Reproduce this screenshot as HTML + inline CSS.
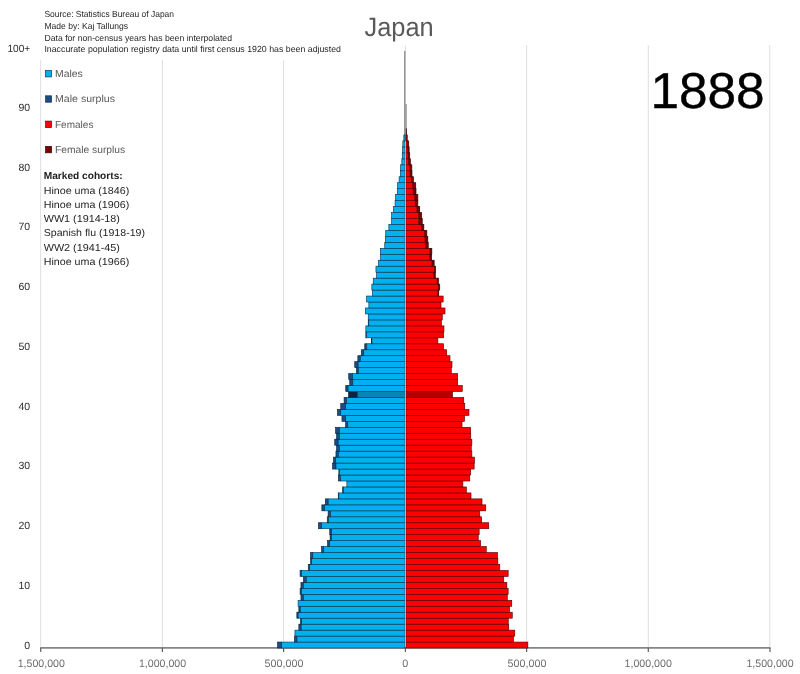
<!DOCTYPE html>
<html lang="en"><head><meta charset="utf-8"><title>Japan 1888 population pyramid</title>
<style>html,body{margin:0;padding:0;background:#fff}body{width:800px;height:674px;overflow:hidden}svg{display:block}text{font-family:"Liberation Sans",sans-serif;text-rendering:geometricPrecision}</style></head><body>
<svg width="800" height="674" viewBox="0 0 800 674">
<rect width="800" height="674" fill="#fff"/>
<g stroke="#dcdcdc" stroke-width="0.95">
<line x1="40.65" y1="60" x2="40.65" y2="648"/>
<line x1="162.4" y1="60" x2="162.4" y2="648"/>
<line x1="283.55" y1="60" x2="283.55" y2="648"/>
<line x1="526.6" y1="45" x2="526.6" y2="648"/>
<line x1="648.3" y1="45" x2="648.3" y2="648"/>
<line x1="769.8" y1="45" x2="769.8" y2="648"/>
</g>
<line x1="405.4" y1="45.5" x2="405.4" y2="51" stroke="#dfdfdf" stroke-width="1.1"/>
<line x1="404.85" y1="51" x2="404.85" y2="140" stroke="#8c8c8c" stroke-width="1.5"/>
<line x1="406" y1="104" x2="406" y2="129" stroke="#9a9a9a" stroke-width="1.6"/>
<line x1="406.3" y1="128.5" x2="406.3" y2="135" stroke="#4a1a1a" stroke-width="1.3"/>
<line x1="40.1" y1="647.8" x2="770.5" y2="647.8" stroke="#858585" stroke-width="1.7"/>
<g stroke="#606060" stroke-width="1.2">
<line x1="40.7" y1="648" x2="40.7" y2="652"/>
<line x1="162.4" y1="648" x2="162.4" y2="652"/>
<line x1="283.6" y1="648" x2="283.6" y2="652"/>
<line x1="405.4" y1="648" x2="405.4" y2="652"/>
<line x1="526.6" y1="648" x2="526.6" y2="652"/>
<line x1="648.3" y1="648" x2="648.3" y2="652"/>
<line x1="770.0" y1="648" x2="770.0" y2="652"/>
</g>
<g id="bars">
<rect x="277.60" y="642.06" width="4.00" height="5.97" fill="#1c4c84" stroke="#0a2540" stroke-width="0.65"/>
<rect x="281.60" y="642.06" width="123.40" height="5.97" fill="#00b0f0" stroke="#083a55" stroke-width="0.65"/>
<rect x="405.90" y="642.06" width="121.95" height="5.97" fill="#ff0000" stroke="#5a0000" stroke-width="0.65"/>
<rect x="294.45" y="636.10" width="2.50" height="5.97" fill="#1c4c84" stroke="#0a2540" stroke-width="0.65"/>
<rect x="296.95" y="636.10" width="108.05" height="5.97" fill="#00b0f0" stroke="#083a55" stroke-width="0.65"/>
<rect x="405.90" y="636.10" width="107.60" height="5.97" fill="#ff0000" stroke="#5a0000" stroke-width="0.65"/>
<rect x="294.95" y="630.13" width="110.05" height="5.97" fill="#00b0f0" stroke="#083a55" stroke-width="0.65"/>
<rect x="405.90" y="630.13" width="108.85" height="5.97" fill="#ff0000" stroke="#5a0000" stroke-width="0.65"/>
<rect x="298.85" y="624.17" width="2.35" height="5.97" fill="#1c4c84" stroke="#0a2540" stroke-width="0.65"/>
<rect x="301.20" y="624.17" width="103.80" height="5.97" fill="#00b0f0" stroke="#083a55" stroke-width="0.65"/>
<rect x="405.90" y="624.17" width="102.85" height="5.97" fill="#ff0000" stroke="#5a0000" stroke-width="0.65"/>
<rect x="300.35" y="618.20" width="1.25" height="5.97" fill="#1c4c84" stroke="#0a2540" stroke-width="0.65"/>
<rect x="301.60" y="618.20" width="103.40" height="5.97" fill="#00b0f0" stroke="#083a55" stroke-width="0.65"/>
<rect x="405.90" y="618.20" width="102.35" height="5.97" fill="#ff0000" stroke="#5a0000" stroke-width="0.65"/>
<rect x="296.85" y="612.23" width="1.35" height="5.97" fill="#1c4c84" stroke="#0a2540" stroke-width="0.65"/>
<rect x="298.20" y="612.23" width="106.80" height="5.97" fill="#00b0f0" stroke="#083a55" stroke-width="0.65"/>
<rect x="405.90" y="612.23" width="106.35" height="5.97" fill="#ff0000" stroke="#5a0000" stroke-width="0.65"/>
<rect x="298.85" y="606.27" width="1.45" height="5.97" fill="#1c4c84" stroke="#0a2540" stroke-width="0.65"/>
<rect x="300.30" y="606.27" width="104.70" height="5.97" fill="#00b0f0" stroke="#083a55" stroke-width="0.65"/>
<rect x="405.90" y="606.27" width="103.60" height="5.97" fill="#ff0000" stroke="#5a0000" stroke-width="0.65"/>
<rect x="298.10" y="600.30" width="106.90" height="5.97" fill="#00b0f0" stroke="#083a55" stroke-width="0.65"/>
<rect x="405.90" y="600.30" width="105.85" height="5.97" fill="#ff0000" stroke="#5a0000" stroke-width="0.65"/>
<rect x="300.95" y="594.34" width="2.50" height="5.97" fill="#1c4c84" stroke="#0a2540" stroke-width="0.65"/>
<rect x="303.45" y="594.34" width="101.55" height="5.97" fill="#00b0f0" stroke="#083a55" stroke-width="0.65"/>
<rect x="405.90" y="594.34" width="101.35" height="5.97" fill="#ff0000" stroke="#5a0000" stroke-width="0.65"/>
<rect x="300.10" y="588.37" width="1.50" height="5.97" fill="#1c4c84" stroke="#0a2540" stroke-width="0.65"/>
<rect x="301.60" y="588.37" width="103.40" height="5.97" fill="#00b0f0" stroke="#083a55" stroke-width="0.65"/>
<rect x="405.90" y="588.37" width="102.25" height="5.97" fill="#ff0000" stroke="#5a0000" stroke-width="0.65"/>
<rect x="300.95" y="582.40" width="2.50" height="5.97" fill="#1c4c84" stroke="#0a2540" stroke-width="0.65"/>
<rect x="303.45" y="582.40" width="101.55" height="5.97" fill="#00b0f0" stroke="#083a55" stroke-width="0.65"/>
<rect x="405.90" y="582.40" width="100.95" height="5.97" fill="#ff0000" stroke="#5a0000" stroke-width="0.65"/>
<rect x="303.45" y="576.44" width="2.85" height="5.97" fill="#1c4c84" stroke="#0a2540" stroke-width="0.65"/>
<rect x="306.30" y="576.44" width="98.70" height="5.97" fill="#00b0f0" stroke="#083a55" stroke-width="0.65"/>
<rect x="405.90" y="576.44" width="97.85" height="5.97" fill="#ff0000" stroke="#5a0000" stroke-width="0.65"/>
<rect x="300.10" y="570.47" width="1.50" height="5.97" fill="#1c4c84" stroke="#0a2540" stroke-width="0.65"/>
<rect x="301.60" y="570.47" width="103.40" height="5.97" fill="#00b0f0" stroke="#083a55" stroke-width="0.65"/>
<rect x="405.90" y="570.47" width="102.25" height="5.97" fill="#ff0000" stroke="#5a0000" stroke-width="0.65"/>
<rect x="308.25" y="564.51" width="1.45" height="5.97" fill="#1c4c84" stroke="#0a2540" stroke-width="0.65"/>
<rect x="309.70" y="564.51" width="95.30" height="5.97" fill="#00b0f0" stroke="#083a55" stroke-width="0.65"/>
<rect x="405.90" y="564.51" width="93.85" height="5.97" fill="#ff0000" stroke="#5a0000" stroke-width="0.65"/>
<rect x="310.60" y="558.54" width="1.00" height="5.97" fill="#1c4c84" stroke="#0a2540" stroke-width="0.65"/>
<rect x="311.60" y="558.54" width="93.40" height="5.97" fill="#00b0f0" stroke="#083a55" stroke-width="0.65"/>
<rect x="405.90" y="558.54" width="91.95" height="5.97" fill="#ff0000" stroke="#5a0000" stroke-width="0.65"/>
<rect x="310.60" y="552.57" width="2.20" height="5.97" fill="#1c4c84" stroke="#0a2540" stroke-width="0.65"/>
<rect x="312.80" y="552.57" width="92.20" height="5.97" fill="#00b0f0" stroke="#083a55" stroke-width="0.65"/>
<rect x="405.90" y="552.57" width="91.60" height="5.97" fill="#ff0000" stroke="#5a0000" stroke-width="0.65"/>
<rect x="321.60" y="546.61" width="2.10" height="5.97" fill="#1c4c84" stroke="#0a2540" stroke-width="0.65"/>
<rect x="323.70" y="546.61" width="81.30" height="5.97" fill="#00b0f0" stroke="#083a55" stroke-width="0.65"/>
<rect x="405.90" y="546.61" width="80.35" height="5.97" fill="#ff0000" stroke="#5a0000" stroke-width="0.65"/>
<rect x="327.60" y="540.64" width="2.10" height="5.97" fill="#1c4c84" stroke="#0a2540" stroke-width="0.65"/>
<rect x="329.70" y="540.64" width="75.30" height="5.97" fill="#00b0f0" stroke="#083a55" stroke-width="0.65"/>
<rect x="405.90" y="540.64" width="74.75" height="5.97" fill="#ff0000" stroke="#5a0000" stroke-width="0.65"/>
<rect x="330.10" y="534.68" width="1.50" height="5.97" fill="#1c4c84" stroke="#0a2540" stroke-width="0.65"/>
<rect x="331.60" y="534.68" width="73.40" height="5.97" fill="#00b0f0" stroke="#083a55" stroke-width="0.65"/>
<rect x="405.90" y="534.68" width="72.35" height="5.97" fill="#ff0000" stroke="#5a0000" stroke-width="0.65"/>
<rect x="329.75" y="528.71" width="1.85" height="5.97" fill="#1c4c84" stroke="#0a2540" stroke-width="0.65"/>
<rect x="331.60" y="528.71" width="73.40" height="5.97" fill="#00b0f0" stroke="#083a55" stroke-width="0.65"/>
<rect x="405.90" y="528.71" width="73.25" height="5.97" fill="#ff0000" stroke="#5a0000" stroke-width="0.65"/>
<rect x="318.45" y="522.74" width="3.15" height="5.97" fill="#1c4c84" stroke="#0a2540" stroke-width="0.65"/>
<rect x="321.60" y="522.74" width="83.40" height="5.97" fill="#00b0f0" stroke="#083a55" stroke-width="0.65"/>
<rect x="405.90" y="522.74" width="82.85" height="5.97" fill="#ff0000" stroke="#5a0000" stroke-width="0.65"/>
<rect x="327.25" y="516.78" width="1.20" height="5.97" fill="#1c4c84" stroke="#0a2540" stroke-width="0.65"/>
<rect x="328.45" y="516.78" width="76.55" height="5.97" fill="#00b0f0" stroke="#083a55" stroke-width="0.65"/>
<rect x="405.90" y="516.78" width="75.75" height="5.97" fill="#ff0000" stroke="#5a0000" stroke-width="0.65"/>
<rect x="328.10" y="510.81" width="2.50" height="5.97" fill="#1c4c84" stroke="#0a2540" stroke-width="0.65"/>
<rect x="330.60" y="510.81" width="74.40" height="5.97" fill="#00b0f0" stroke="#083a55" stroke-width="0.65"/>
<rect x="405.90" y="510.81" width="73.85" height="5.97" fill="#ff0000" stroke="#5a0000" stroke-width="0.65"/>
<rect x="321.85" y="504.85" width="2.85" height="5.97" fill="#1c4c84" stroke="#0a2540" stroke-width="0.65"/>
<rect x="324.70" y="504.85" width="80.30" height="5.97" fill="#00b0f0" stroke="#083a55" stroke-width="0.65"/>
<rect x="405.90" y="504.85" width="79.85" height="5.97" fill="#ff0000" stroke="#5a0000" stroke-width="0.65"/>
<rect x="325.35" y="498.88" width="2.85" height="5.97" fill="#1c4c84" stroke="#0a2540" stroke-width="0.65"/>
<rect x="328.20" y="498.88" width="76.80" height="5.97" fill="#00b0f0" stroke="#083a55" stroke-width="0.65"/>
<rect x="405.90" y="498.88" width="76.10" height="5.97" fill="#ff0000" stroke="#5a0000" stroke-width="0.65"/>
<rect x="338.25" y="492.91" width="0.55" height="5.97" fill="#1c4c84" stroke="#0a2540" stroke-width="0.65"/>
<rect x="338.80" y="492.91" width="66.20" height="5.97" fill="#00b0f0" stroke="#083a55" stroke-width="0.65"/>
<rect x="405.90" y="492.91" width="65.10" height="5.97" fill="#ff0000" stroke="#5a0000" stroke-width="0.65"/>
<rect x="342.55" y="486.95" width="0.90" height="5.97" fill="#1c4c84" stroke="#0a2540" stroke-width="0.65"/>
<rect x="343.45" y="486.95" width="61.55" height="5.97" fill="#00b0f0" stroke="#083a55" stroke-width="0.65"/>
<rect x="405.90" y="486.95" width="60.45" height="5.97" fill="#ff0000" stroke="#5a0000" stroke-width="0.65"/>
<rect x="346.85" y="480.98" width="58.15" height="5.97" fill="#00b0f0" stroke="#083a55" stroke-width="0.65"/>
<rect x="405.90" y="480.98" width="56.95" height="5.97" fill="#ff0000" stroke="#5a0000" stroke-width="0.65"/>
<rect x="338.45" y="475.02" width="2.15" height="5.97" fill="#1c4c84" stroke="#0a2540" stroke-width="0.65"/>
<rect x="340.60" y="475.02" width="64.40" height="5.97" fill="#00b0f0" stroke="#083a55" stroke-width="0.65"/>
<rect x="405.90" y="475.02" width="63.85" height="5.97" fill="#ff0000" stroke="#5a0000" stroke-width="0.65"/>
<rect x="338.85" y="469.05" width="0.60" height="5.97" fill="#1c4c84" stroke="#0a2540" stroke-width="0.65"/>
<rect x="339.45" y="469.05" width="65.55" height="5.97" fill="#00b0f0" stroke="#083a55" stroke-width="0.65"/>
<rect x="405.90" y="469.05" width="64.75" height="5.97" fill="#ff0000" stroke="#5a0000" stroke-width="0.65"/>
<rect x="332.60" y="463.08" width="3.35" height="5.97" fill="#1c4c84" stroke="#0a2540" stroke-width="0.65"/>
<rect x="335.95" y="463.08" width="69.05" height="5.97" fill="#00b0f0" stroke="#083a55" stroke-width="0.65"/>
<rect x="405.90" y="463.08" width="68.25" height="5.97" fill="#ff0000" stroke="#5a0000" stroke-width="0.65"/>
<rect x="333.45" y="457.12" width="2.25" height="5.97" fill="#1c4c84" stroke="#0a2540" stroke-width="0.65"/>
<rect x="335.70" y="457.12" width="69.30" height="5.97" fill="#00b0f0" stroke="#083a55" stroke-width="0.65"/>
<rect x="405.90" y="457.12" width="68.60" height="5.97" fill="#ff0000" stroke="#5a0000" stroke-width="0.65"/>
<rect x="335.95" y="451.15" width="2.50" height="5.97" fill="#1c4c84" stroke="#0a2540" stroke-width="0.65"/>
<rect x="338.45" y="451.15" width="66.55" height="5.97" fill="#00b0f0" stroke="#083a55" stroke-width="0.65"/>
<rect x="405.90" y="451.15" width="65.95" height="5.97" fill="#ff0000" stroke="#5a0000" stroke-width="0.65"/>
<rect x="336.60" y="445.19" width="2.85" height="5.97" fill="#1c4c84" stroke="#0a2540" stroke-width="0.65"/>
<rect x="339.45" y="445.19" width="65.55" height="5.97" fill="#00b0f0" stroke="#083a55" stroke-width="0.65"/>
<rect x="405.90" y="445.19" width="65.35" height="5.97" fill="#ff0000" stroke="#5a0000" stroke-width="0.65"/>
<rect x="334.75" y="439.22" width="3.45" height="5.97" fill="#1c4c84" stroke="#0a2540" stroke-width="0.65"/>
<rect x="338.20" y="439.22" width="66.80" height="5.97" fill="#00b0f0" stroke="#083a55" stroke-width="0.65"/>
<rect x="405.90" y="439.22" width="65.95" height="5.97" fill="#ff0000" stroke="#5a0000" stroke-width="0.65"/>
<rect x="336.60" y="433.25" width="2.85" height="5.97" fill="#1c4c84" stroke="#0a2540" stroke-width="0.65"/>
<rect x="339.45" y="433.25" width="65.55" height="5.97" fill="#00b0f0" stroke="#083a55" stroke-width="0.65"/>
<rect x="405.90" y="433.25" width="64.85" height="5.97" fill="#ff0000" stroke="#5a0000" stroke-width="0.65"/>
<rect x="335.60" y="427.29" width="3.85" height="5.97" fill="#1c4c84" stroke="#0a2540" stroke-width="0.65"/>
<rect x="339.45" y="427.29" width="65.55" height="5.97" fill="#00b0f0" stroke="#083a55" stroke-width="0.65"/>
<rect x="405.90" y="427.29" width="64.75" height="5.97" fill="#ff0000" stroke="#5a0000" stroke-width="0.65"/>
<rect x="345.60" y="421.32" width="2.20" height="5.97" fill="#1c4c84" stroke="#0a2540" stroke-width="0.65"/>
<rect x="347.80" y="421.32" width="57.20" height="5.97" fill="#00b0f0" stroke="#083a55" stroke-width="0.65"/>
<rect x="405.90" y="421.32" width="56.10" height="5.97" fill="#ff0000" stroke="#5a0000" stroke-width="0.65"/>
<rect x="341.95" y="415.36" width="3.75" height="5.97" fill="#1c4c84" stroke="#0a2540" stroke-width="0.65"/>
<rect x="345.70" y="415.36" width="59.30" height="5.97" fill="#00b0f0" stroke="#083a55" stroke-width="0.65"/>
<rect x="405.90" y="415.36" width="58.60" height="5.97" fill="#ff0000" stroke="#5a0000" stroke-width="0.65"/>
<rect x="337.55" y="409.39" width="3.15" height="5.97" fill="#1c4c84" stroke="#0a2540" stroke-width="0.65"/>
<rect x="340.70" y="409.39" width="64.30" height="5.97" fill="#00b0f0" stroke="#083a55" stroke-width="0.65"/>
<rect x="405.90" y="409.39" width="63.05" height="5.97" fill="#ff0000" stroke="#5a0000" stroke-width="0.65"/>
<rect x="340.75" y="403.42" width="4.85" height="5.97" fill="#1c4c84" stroke="#0a2540" stroke-width="0.65"/>
<rect x="345.60" y="403.42" width="59.40" height="5.97" fill="#00b0f0" stroke="#083a55" stroke-width="0.65"/>
<rect x="405.90" y="403.42" width="58.85" height="5.97" fill="#ff0000" stroke="#5a0000" stroke-width="0.65"/>
<rect x="344.10" y="397.46" width="2.50" height="5.97" fill="#1c4c84" stroke="#0a2540" stroke-width="0.65"/>
<rect x="346.60" y="397.46" width="58.40" height="5.97" fill="#00b0f0" stroke="#083a55" stroke-width="0.65"/>
<rect x="405.90" y="397.46" width="57.85" height="5.97" fill="#ff0000" stroke="#5a0000" stroke-width="0.65"/>
<rect x="348.45" y="391.49" width="9.00" height="5.97" fill="#0c2440" stroke="#0a2540" stroke-width="0.65"/>
<rect x="357.45" y="391.49" width="47.55" height="5.97" fill="#0a84b4" stroke="#06405c" stroke-width="0.65"/>
<rect x="405.90" y="391.49" width="46.60" height="5.97" fill="#b00000" stroke="#5a0000" stroke-width="0.65"/>
<rect x="345.75" y="385.53" width="2.35" height="5.97" fill="#1c4c84" stroke="#0a2540" stroke-width="0.65"/>
<rect x="348.10" y="385.53" width="56.90" height="5.97" fill="#00b0f0" stroke="#083a55" stroke-width="0.65"/>
<rect x="405.90" y="385.53" width="56.35" height="5.97" fill="#ff0000" stroke="#5a0000" stroke-width="0.65"/>
<rect x="349.75" y="379.56" width="3.05" height="5.97" fill="#1c4c84" stroke="#0a2540" stroke-width="0.65"/>
<rect x="352.80" y="379.56" width="52.20" height="5.97" fill="#00b0f0" stroke="#083a55" stroke-width="0.65"/>
<rect x="405.90" y="379.56" width="51.75" height="5.97" fill="#ff0000" stroke="#5a0000" stroke-width="0.65"/>
<rect x="348.75" y="373.59" width="3.85" height="5.97" fill="#1c4c84" stroke="#0a2540" stroke-width="0.65"/>
<rect x="352.60" y="373.59" width="52.40" height="5.97" fill="#00b0f0" stroke="#083a55" stroke-width="0.65"/>
<rect x="405.90" y="373.59" width="51.75" height="5.97" fill="#ff0000" stroke="#5a0000" stroke-width="0.65"/>
<rect x="356.35" y="367.63" width="2.10" height="5.97" fill="#1c4c84" stroke="#0a2540" stroke-width="0.65"/>
<rect x="358.45" y="367.63" width="46.55" height="5.97" fill="#00b0f0" stroke="#083a55" stroke-width="0.65"/>
<rect x="405.90" y="367.63" width="45.35" height="5.97" fill="#ff0000" stroke="#5a0000" stroke-width="0.65"/>
<rect x="354.75" y="361.66" width="3.45" height="5.97" fill="#1c4c84" stroke="#0a2540" stroke-width="0.65"/>
<rect x="358.20" y="361.66" width="46.80" height="5.97" fill="#00b0f0" stroke="#083a55" stroke-width="0.65"/>
<rect x="405.90" y="361.66" width="46.10" height="5.97" fill="#ff0000" stroke="#5a0000" stroke-width="0.65"/>
<rect x="357.85" y="355.70" width="2.45" height="5.97" fill="#1c4c84" stroke="#0a2540" stroke-width="0.65"/>
<rect x="360.30" y="355.70" width="44.70" height="5.97" fill="#00b0f0" stroke="#083a55" stroke-width="0.65"/>
<rect x="405.90" y="355.70" width="44.10" height="5.97" fill="#ff0000" stroke="#5a0000" stroke-width="0.65"/>
<rect x="361.35" y="349.73" width="2.35" height="5.97" fill="#1c4c84" stroke="#0a2540" stroke-width="0.65"/>
<rect x="363.70" y="349.73" width="41.30" height="5.97" fill="#00b0f0" stroke="#083a55" stroke-width="0.65"/>
<rect x="405.90" y="349.73" width="40.75" height="5.97" fill="#ff0000" stroke="#5a0000" stroke-width="0.65"/>
<rect x="364.75" y="343.76" width="2.05" height="5.97" fill="#1c4c84" stroke="#0a2540" stroke-width="0.65"/>
<rect x="366.80" y="343.76" width="38.20" height="5.97" fill="#00b0f0" stroke="#083a55" stroke-width="0.65"/>
<rect x="405.90" y="343.76" width="37.60" height="5.97" fill="#ff0000" stroke="#5a0000" stroke-width="0.65"/>
<rect x="371.60" y="337.80" width="0.35" height="5.97" fill="#1c4c84" stroke="#0a2540" stroke-width="0.65"/>
<rect x="371.95" y="337.80" width="33.05" height="5.97" fill="#00b0f0" stroke="#083a55" stroke-width="0.65"/>
<rect x="405.90" y="337.80" width="31.95" height="5.97" fill="#ff0000" stroke="#5a0000" stroke-width="0.65"/>
<rect x="365.85" y="331.83" width="0.75" height="5.97" fill="#1c4c84" stroke="#0a2540" stroke-width="0.65"/>
<rect x="366.60" y="331.83" width="38.40" height="5.97" fill="#00b0f0" stroke="#083a55" stroke-width="0.65"/>
<rect x="405.90" y="331.83" width="37.75" height="5.97" fill="#ff0000" stroke="#5a0000" stroke-width="0.65"/>
<rect x="365.85" y="325.87" width="39.15" height="5.97" fill="#00b0f0" stroke="#083a55" stroke-width="0.65"/>
<rect x="405.90" y="325.87" width="38.05" height="5.97" fill="#ff0000" stroke="#5a0000" stroke-width="0.65"/>
<rect x="368.25" y="319.90" width="0.45" height="5.97" fill="#1c4c84" stroke="#0a2540" stroke-width="0.65"/>
<rect x="368.70" y="319.90" width="36.30" height="5.97" fill="#00b0f0" stroke="#083a55" stroke-width="0.65"/>
<rect x="405.90" y="319.90" width="35.45" height="5.97" fill="#ff0000" stroke="#5a0000" stroke-width="0.65"/>
<rect x="368.25" y="313.93" width="36.75" height="5.97" fill="#00b0f0" stroke="#083a55" stroke-width="0.65"/>
<rect x="405.90" y="313.93" width="36.35" height="5.97" fill="#ff0000" stroke="#5a0000" stroke-width="0.65"/>
<rect x="365.35" y="307.97" width="39.65" height="5.97" fill="#00b0f0" stroke="#083a55" stroke-width="0.65"/>
<rect x="405.90" y="307.97" width="39.10" height="5.97" fill="#ff0000" stroke="#5a0000" stroke-width="0.65"/>
<rect x="368.85" y="302.00" width="36.15" height="5.97" fill="#00b0f0" stroke="#083a55" stroke-width="0.65"/>
<rect x="405.90" y="302.00" width="35.10" height="5.97" fill="#ff0000" stroke="#5a0000" stroke-width="0.65"/>
<rect x="366.60" y="296.04" width="38.40" height="5.97" fill="#00b0f0" stroke="#083a55" stroke-width="0.65"/>
<rect x="405.90" y="296.04" width="37.25" height="5.97" fill="#ff0000" stroke="#5a0000" stroke-width="0.65"/>
<rect x="372.45" y="290.07" width="32.55" height="5.97" fill="#00b0f0" stroke="#083a55" stroke-width="0.65"/>
<rect x="437.90" y="290.07" width="0.85" height="5.97" fill="#7b0000" stroke="#300000" stroke-width="0.65"/>
<rect x="405.90" y="290.07" width="32.00" height="5.97" fill="#ff0000" stroke="#5a0000" stroke-width="0.65"/>
<rect x="371.85" y="284.10" width="33.15" height="5.97" fill="#00b0f0" stroke="#083a55" stroke-width="0.65"/>
<rect x="438.50" y="284.10" width="1.25" height="5.97" fill="#7b0000" stroke="#300000" stroke-width="0.65"/>
<rect x="405.90" y="284.10" width="32.60" height="5.97" fill="#ff0000" stroke="#5a0000" stroke-width="0.65"/>
<rect x="373.25" y="278.14" width="31.75" height="5.97" fill="#00b0f0" stroke="#083a55" stroke-width="0.65"/>
<rect x="437.10" y="278.14" width="1.40" height="5.97" fill="#7b0000" stroke="#300000" stroke-width="0.65"/>
<rect x="405.90" y="278.14" width="31.20" height="5.97" fill="#ff0000" stroke="#5a0000" stroke-width="0.65"/>
<rect x="376.60" y="272.17" width="28.40" height="5.97" fill="#00b0f0" stroke="#083a55" stroke-width="0.65"/>
<rect x="433.75" y="272.17" width="1.60" height="5.97" fill="#7b0000" stroke="#300000" stroke-width="0.65"/>
<rect x="405.90" y="272.17" width="27.85" height="5.97" fill="#ff0000" stroke="#5a0000" stroke-width="0.65"/>
<rect x="375.95" y="266.21" width="29.05" height="5.97" fill="#00b0f0" stroke="#083a55" stroke-width="0.65"/>
<rect x="434.40" y="266.21" width="1.25" height="5.97" fill="#7b0000" stroke="#300000" stroke-width="0.65"/>
<rect x="405.90" y="266.21" width="28.50" height="5.97" fill="#ff0000" stroke="#5a0000" stroke-width="0.65"/>
<rect x="378.45" y="260.24" width="26.55" height="5.97" fill="#00b0f0" stroke="#083a55" stroke-width="0.65"/>
<rect x="431.90" y="260.24" width="2.25" height="5.97" fill="#7b0000" stroke="#300000" stroke-width="0.65"/>
<rect x="405.90" y="260.24" width="26.00" height="5.97" fill="#ff0000" stroke="#5a0000" stroke-width="0.65"/>
<rect x="380.60" y="254.27" width="24.40" height="5.97" fill="#00b0f0" stroke="#083a55" stroke-width="0.65"/>
<rect x="429.75" y="254.27" width="1.90" height="5.97" fill="#7b0000" stroke="#300000" stroke-width="0.65"/>
<rect x="405.90" y="254.27" width="23.85" height="5.97" fill="#ff0000" stroke="#5a0000" stroke-width="0.65"/>
<rect x="380.35" y="248.31" width="24.65" height="5.97" fill="#00b0f0" stroke="#083a55" stroke-width="0.65"/>
<rect x="430.00" y="248.31" width="1.85" height="5.97" fill="#7b0000" stroke="#300000" stroke-width="0.65"/>
<rect x="405.90" y="248.31" width="24.10" height="5.97" fill="#ff0000" stroke="#5a0000" stroke-width="0.65"/>
<rect x="384.75" y="242.34" width="20.25" height="5.97" fill="#00b0f0" stroke="#083a55" stroke-width="0.65"/>
<rect x="425.60" y="242.34" width="2.65" height="5.97" fill="#7b0000" stroke="#300000" stroke-width="0.65"/>
<rect x="405.90" y="242.34" width="19.70" height="5.97" fill="#ff0000" stroke="#5a0000" stroke-width="0.65"/>
<rect x="385.35" y="236.38" width="19.65" height="5.97" fill="#00b0f0" stroke="#083a55" stroke-width="0.65"/>
<rect x="425.00" y="236.38" width="2.85" height="5.97" fill="#7b0000" stroke="#300000" stroke-width="0.65"/>
<rect x="405.90" y="236.38" width="19.10" height="5.97" fill="#ff0000" stroke="#5a0000" stroke-width="0.65"/>
<rect x="385.75" y="230.41" width="19.25" height="5.97" fill="#00b0f0" stroke="#083a55" stroke-width="0.65"/>
<rect x="424.60" y="230.41" width="2.25" height="5.97" fill="#7b0000" stroke="#300000" stroke-width="0.65"/>
<rect x="405.90" y="230.41" width="18.70" height="5.97" fill="#ff0000" stroke="#5a0000" stroke-width="0.65"/>
<rect x="388.85" y="224.44" width="16.15" height="5.97" fill="#00b0f0" stroke="#083a55" stroke-width="0.65"/>
<rect x="421.50" y="224.44" width="2.35" height="5.97" fill="#7b0000" stroke="#300000" stroke-width="0.65"/>
<rect x="405.90" y="224.44" width="15.60" height="5.97" fill="#ff0000" stroke="#5a0000" stroke-width="0.65"/>
<rect x="391.60" y="218.48" width="13.40" height="5.97" fill="#00b0f0" stroke="#083a55" stroke-width="0.65"/>
<rect x="418.75" y="218.48" width="3.50" height="5.97" fill="#7b0000" stroke="#300000" stroke-width="0.65"/>
<rect x="405.90" y="218.48" width="12.85" height="5.97" fill="#ff0000" stroke="#5a0000" stroke-width="0.65"/>
<rect x="391.60" y="212.51" width="13.40" height="5.97" fill="#00b0f0" stroke="#083a55" stroke-width="0.65"/>
<rect x="418.75" y="212.51" width="2.90" height="5.97" fill="#7b0000" stroke="#300000" stroke-width="0.65"/>
<rect x="405.90" y="212.51" width="12.85" height="5.97" fill="#ff0000" stroke="#5a0000" stroke-width="0.65"/>
<rect x="393.45" y="206.55" width="11.55" height="5.97" fill="#00b0f0" stroke="#083a55" stroke-width="0.65"/>
<rect x="416.90" y="206.55" width="2.85" height="5.97" fill="#7b0000" stroke="#300000" stroke-width="0.65"/>
<rect x="405.90" y="206.55" width="11.00" height="5.97" fill="#ff0000" stroke="#5a0000" stroke-width="0.65"/>
<rect x="395.10" y="200.58" width="9.90" height="5.97" fill="#00b0f0" stroke="#083a55" stroke-width="0.65"/>
<rect x="415.25" y="200.58" width="2.60" height="5.97" fill="#7b0000" stroke="#300000" stroke-width="0.65"/>
<rect x="405.90" y="200.58" width="9.35" height="5.97" fill="#ff0000" stroke="#5a0000" stroke-width="0.65"/>
<rect x="395.60" y="194.61" width="9.40" height="5.97" fill="#00b0f0" stroke="#083a55" stroke-width="0.65"/>
<rect x="414.75" y="194.61" width="3.10" height="5.97" fill="#7b0000" stroke="#300000" stroke-width="0.65"/>
<rect x="405.90" y="194.61" width="8.85" height="5.97" fill="#ff0000" stroke="#5a0000" stroke-width="0.65"/>
<rect x="397.25" y="188.65" width="7.75" height="5.97" fill="#00b0f0" stroke="#083a55" stroke-width="0.65"/>
<rect x="413.10" y="188.65" width="2.90" height="5.97" fill="#7b0000" stroke="#300000" stroke-width="0.65"/>
<rect x="405.90" y="188.65" width="7.20" height="5.97" fill="#ff0000" stroke="#5a0000" stroke-width="0.65"/>
<rect x="397.60" y="182.68" width="7.40" height="5.97" fill="#00b0f0" stroke="#083a55" stroke-width="0.65"/>
<rect x="412.75" y="182.68" width="3.00" height="5.97" fill="#7b0000" stroke="#300000" stroke-width="0.65"/>
<rect x="405.90" y="182.68" width="6.85" height="5.97" fill="#ff0000" stroke="#5a0000" stroke-width="0.65"/>
<rect x="399.10" y="176.72" width="5.90" height="5.97" fill="#00b0f0" stroke="#083a55" stroke-width="0.65"/>
<rect x="411.25" y="176.72" width="2.25" height="5.97" fill="#7b0000" stroke="#300000" stroke-width="0.65"/>
<rect x="405.90" y="176.72" width="5.35" height="5.97" fill="#ff0000" stroke="#5a0000" stroke-width="0.65"/>
<rect x="400.35" y="170.75" width="4.65" height="5.97" fill="#00b0f0" stroke="#083a55" stroke-width="0.65"/>
<rect x="410.00" y="170.75" width="2.00" height="5.97" fill="#7b0000" stroke="#300000" stroke-width="0.65"/>
<rect x="405.90" y="170.75" width="4.10" height="5.97" fill="#ff0000" stroke="#5a0000" stroke-width="0.65"/>
<rect x="400.60" y="164.78" width="4.40" height="5.97" fill="#00b0f0" stroke="#083a55" stroke-width="0.65"/>
<rect x="409.75" y="164.78" width="2.10" height="5.97" fill="#7b0000" stroke="#300000" stroke-width="0.65"/>
<rect x="405.90" y="164.78" width="3.85" height="5.97" fill="#ff0000" stroke="#5a0000" stroke-width="0.65"/>
<rect x="401.85" y="158.82" width="3.15" height="5.97" fill="#00b0f0" stroke="#083a55" stroke-width="0.65"/>
<rect x="408.50" y="158.82" width="1.85" height="5.97" fill="#7b0000" stroke="#300000" stroke-width="0.65"/>
<rect x="405.90" y="158.82" width="2.60" height="5.97" fill="#ff0000" stroke="#5a0000" stroke-width="0.65"/>
<rect x="402.25" y="152.85" width="2.75" height="5.97" fill="#00b0f0" stroke="#083a55" stroke-width="0.65"/>
<rect x="408.10" y="152.85" width="1.65" height="5.97" fill="#7b0000" stroke="#300000" stroke-width="0.65"/>
<rect x="405.90" y="152.85" width="2.20" height="5.97" fill="#ff0000" stroke="#5a0000" stroke-width="0.65"/>
<rect x="402.60" y="146.89" width="2.40" height="5.97" fill="#00b0f0" stroke="#083a55" stroke-width="0.65"/>
<rect x="407.75" y="146.89" width="1.40" height="5.97" fill="#7b0000" stroke="#300000" stroke-width="0.65"/>
<rect x="405.90" y="146.89" width="1.85" height="5.97" fill="#ff0000" stroke="#5a0000" stroke-width="0.65"/>
<rect x="402.85" y="140.92" width="2.15" height="5.97" fill="#00b0f0" stroke="#083a55" stroke-width="0.65"/>
<rect x="407.50" y="140.92" width="1.25" height="5.97" fill="#7b0000" stroke="#300000" stroke-width="0.65"/>
<rect x="405.90" y="140.92" width="1.60" height="5.97" fill="#ff0000" stroke="#5a0000" stroke-width="0.65"/>
<rect x="403.85" y="134.95" width="1.15" height="5.97" fill="#00b0f0" stroke="#083a55" stroke-width="0.65"/>
<rect x="406.50" y="134.95" width="0.75" height="5.97" fill="#7b0000" stroke="#300000" stroke-width="0.65"/>
<rect x="405.90" y="134.95" width="0.60" height="5.97" fill="#ff0000" stroke="#5a0000" stroke-width="0.65"/>
</g>
<line x1="405.4" y1="141" x2="405.4" y2="647" stroke="#bcd6e2" stroke-width="0.8"/>
<text x="41.25" y="667" font-size="10.8" fill="#6e6e6e" text-anchor="middle" textLength="47.2" lengthAdjust="spacingAndGlyphs">1,500,000</text>
<text x="162.5" y="667" font-size="10.8" fill="#6e6e6e" text-anchor="middle" textLength="47.2" lengthAdjust="spacingAndGlyphs">1,000,000</text>
<text x="284" y="667" font-size="10.8" fill="#6e6e6e" text-anchor="middle" textLength="38.8" lengthAdjust="spacingAndGlyphs">500,000</text>
<text x="405.3" y="667" font-size="10.8" fill="#6e6e6e" text-anchor="middle">0</text>
<text x="527" y="667" font-size="10.8" fill="#6e6e6e" text-anchor="middle" textLength="38.8" lengthAdjust="spacingAndGlyphs">500,000</text>
<text x="648.2" y="667" font-size="10.8" fill="#6e6e6e" text-anchor="middle" textLength="47.2" lengthAdjust="spacingAndGlyphs">1,000,000</text>
<text x="770" y="667" font-size="10.8" fill="#6e6e6e" text-anchor="middle" textLength="47.2" lengthAdjust="spacingAndGlyphs">1,500,000</text>
<text x="30.2" y="648.7" font-size="10.5" fill="#2e2e2e" text-anchor="end">0</text>
<text x="30.2" y="588.9" font-size="10.5" fill="#2e2e2e" text-anchor="end">10</text>
<text x="30.2" y="529.2" font-size="10.5" fill="#2e2e2e" text-anchor="end">20</text>
<text x="30.2" y="469.4" font-size="10.5" fill="#2e2e2e" text-anchor="end">30</text>
<text x="30.2" y="409.6" font-size="10.5" fill="#2e2e2e" text-anchor="end">40</text>
<text x="30.2" y="349.9" font-size="10.5" fill="#2e2e2e" text-anchor="end">50</text>
<text x="30.2" y="290.1" font-size="10.5" fill="#2e2e2e" text-anchor="end">60</text>
<text x="30.2" y="230.3" font-size="10.5" fill="#2e2e2e" text-anchor="end">70</text>
<text x="30.2" y="170.5" font-size="10.5" fill="#2e2e2e" text-anchor="end">80</text>
<text x="30.2" y="110.8" font-size="10.5" fill="#2e2e2e" text-anchor="end">90</text>
<text x="30.2" y="51.7" font-size="10.5" fill="#2e2e2e" text-anchor="end" textLength="22.8" lengthAdjust="spacingAndGlyphs">100+</text>
<text x="399.1" y="36.3" font-size="26.4" fill="#595959" text-anchor="middle" textLength="69.2" lengthAdjust="spacingAndGlyphs">Japan</text>
<text x="707.5" y="107.8" font-size="50.6" fill="#000" text-anchor="middle" textLength="114.2" lengthAdjust="spacingAndGlyphs" stroke="#000" stroke-width="0.35">1888</text>
<text x="44.4" y="17.25" font-size="8.8" fill="#262626" textLength="129.6" lengthAdjust="spacingAndGlyphs">Source: Statistics Bureau of Japan</text>
<text x="44.4" y="28.90" font-size="8.8" fill="#262626" textLength="83.6" lengthAdjust="spacingAndGlyphs">Made by: Kaj Tallungs</text>
<text x="44.4" y="40.55" font-size="8.8" fill="#262626" textLength="187.6" lengthAdjust="spacingAndGlyphs">Data for non-census years has been interpolated</text>
<text x="44.4" y="52.20" font-size="8.8" fill="#262626" textLength="296.6" lengthAdjust="spacingAndGlyphs">Inaccurate population registry data until first census 1920 has been adjusted</text>
<rect x="45.6" y="70.50" width="6" height="6.4" fill="#00b0f0" stroke="#083a55" stroke-width="0.7"/>
<text x="55" y="77.10" font-size="10.2" fill="#595959" textLength="27.8" lengthAdjust="spacingAndGlyphs">Males</text>
<rect x="45.6" y="95.80" width="6" height="6.4" fill="#1c4c84" stroke="#10304c" stroke-width="0.7"/>
<text x="55" y="102.40" font-size="10.2" fill="#595959" textLength="60" lengthAdjust="spacingAndGlyphs">Male surplus</text>
<rect x="45.6" y="121.10" width="6" height="6.4" fill="#ff0000" stroke="#5a0000" stroke-width="0.7"/>
<text x="55" y="127.70" font-size="10.2" fill="#595959" textLength="38.4" lengthAdjust="spacingAndGlyphs">Females</text>
<rect x="45.6" y="146.40" width="6" height="6.4" fill="#7b0000" stroke="#3a0000" stroke-width="0.7"/>
<text x="55" y="153.00" font-size="10.2" fill="#595959" textLength="70.2" lengthAdjust="spacingAndGlyphs">Female surplus</text>
<text x="43.7" y="179.25" font-size="10.1" fill="#1c1c1c" textLength="79" lengthAdjust="spacingAndGlyphs" font-weight="bold">Marked cohorts:</text>
<text x="43.7" y="193.50" font-size="10.1" fill="#1f1f1f" textLength="85.5" lengthAdjust="spacingAndGlyphs">Hinoe uma (1846)</text>
<text x="43.7" y="207.75" font-size="10.1" fill="#1f1f1f" textLength="85.5" lengthAdjust="spacingAndGlyphs">Hinoe uma (1906)</text>
<text x="43.7" y="222.00" font-size="10.1" fill="#1f1f1f" textLength="76.3" lengthAdjust="spacingAndGlyphs">WW1 (1914-18)</text>
<text x="43.7" y="236.25" font-size="10.1" fill="#1f1f1f" textLength="101.3" lengthAdjust="spacingAndGlyphs">Spanish flu (1918-19)</text>
<text x="43.7" y="250.50" font-size="10.1" fill="#1f1f1f" textLength="76.3" lengthAdjust="spacingAndGlyphs">WW2 (1941-45)</text>
<text x="43.7" y="264.75" font-size="10.1" fill="#1f1f1f" textLength="85.5" lengthAdjust="spacingAndGlyphs">Hinoe uma (1966)</text>
</svg></body></html>
